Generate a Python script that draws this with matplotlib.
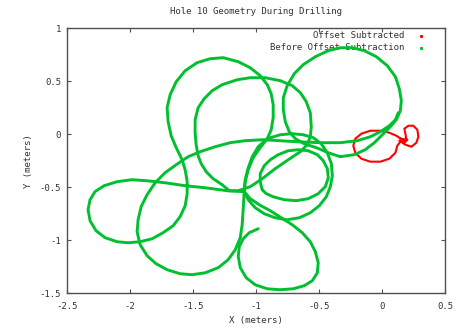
import matplotlib
matplotlib.use("Agg")
import matplotlib.pyplot as plt

plt.rcParams['font.family'] = ['DejaVu Sans Mono']

title = "Hole 10 Geometry During Drilling"
xticks = [-2.5, -2, -1.5, -1, -0.5, 0, 0.5]
yticks = [-1.5, -1, -0.5, 0, 0.5, 1]
xtick_labels = ["-2.5", "-2", "-1.5", "-1", "-0.5", "0", "0.5"]
ytick_labels = ["-1.5", "-1", "-0.5", "0", "0.5", "1"]

# offset-subtracted trace (red)
red_x = [0.161, 0.113, 0.058, -0.013, -0.093, -0.164, -0.212, -0.228, -0.212, -0.164, -0.093, -0.013,
         0.058, 0.106, 0.121, 0.145, 0.193, 0.185, 0.177, 0.209, 0.248, 0.280, 0.288, 0.272, 0.233,
         0.185, 0.137, 0.177, 0.201, 0.145]
red_y = [-0.052, -0.014, 0.014, 0.033, 0.033, 0.005, -0.042, -0.108, -0.175, -0.231, -0.259, -0.259,
         -0.231, -0.175, -0.108, -0.071, -0.052, 0.005, 0.052, 0.080, 0.080, 0.042, -0.024, -0.080,
         -0.118, -0.099, -0.061, -0.080, -0.052, -0.042]

# raw trace (green), split into the passes of the hole
loop_top_x = [-1.220, -1.268, -1.339, -1.394, -1.434, -1.458, -1.474, -1.482, -1.482, -1.458, -1.410,
              -1.347, -1.268, -1.148, -1.045, -0.926, -0.807, -0.712, -0.648, -0.601, -0.569, -0.561,
              -0.569, -0.593, -0.648, -0.744, -0.847, -0.950, -1.045, -1.140, -1.220]
loop_top_y = [-0.524, -0.476, -0.420, -0.354, -0.278, -0.203, -0.099, 0.014, 0.137, 0.250, 0.335,
              0.410, 0.467, 0.514, 0.533, 0.533, 0.505, 0.458, 0.392, 0.307, 0.203, 0.071,
              -0.024, -0.099, -0.165, -0.241, -0.325, -0.420, -0.495, -0.533, -0.533]

loop_left_x = [-1.093, -1.085, -1.061, -1.022, -0.966, -0.910, -0.879, -0.863, -0.863, -0.879, -0.910,
               -0.966, -1.045, -1.140, -1.259, -1.363, -1.466, -1.561, -1.632, -1.680, -1.704, -1.696,
               -1.672, -1.632, -1.585, -1.561, -1.545, -1.545, -1.561, -1.601, -1.656, -1.736, -1.823,
               -1.918, -2.013, -2.101, -2.196, -2.268, -2.315, -2.331, -2.315, -2.276, -2.204, -2.101,
               -1.982, -1.863, -1.720, -1.561, -1.402, -1.228, -1.093]
loop_left_y = [-0.542, -0.448, -0.335, -0.222, -0.127, -0.042, 0.042, 0.156, 0.278, 0.382, 0.467,
               0.552, 0.627, 0.684, 0.722, 0.712, 0.675, 0.599, 0.495, 0.373, 0.250, 0.118,
               -0.014, -0.127, -0.241, -0.335, -0.448, -0.561, -0.675, -0.778, -0.863, -0.929, -0.986,
               -1.014, -1.024, -1.014, -0.976, -0.910, -0.816, -0.712, -0.618, -0.542, -0.486, -0.448,
               -0.429, -0.439, -0.458, -0.486, -0.505, -0.533, -0.542]

sweep_x = [0.129, 0.106, 0.058, -0.013, -0.093, -0.196, -0.331, -0.490, -0.672, -0.942, -1.085,
           -1.204, -1.323, -1.442, -1.537, -1.632, -1.720, -1.799, -1.863, -1.910, -1.934, -1.942,
           -1.918, -1.863, -1.791, -1.704, -1.601, -1.505, -1.402, -1.299, -1.220, -1.164, -1.124,
           -1.109, -1.101, -1.093]
sweep_y = [0.203, 0.137, 0.080, 0.024, -0.024, -0.061, -0.080, -0.080, -0.071, -0.052, -0.061,
           -0.080, -0.118, -0.165, -0.212, -0.288, -0.363, -0.458, -0.571, -0.684, -0.807, -0.920,
           -1.042, -1.146, -1.222, -1.278, -1.316, -1.325, -1.307, -1.259, -1.184, -1.090, -0.976,
           -0.854, -0.712, -0.542]

loop_right_x = [-0.331, -0.426, -0.521, -0.617, -0.688, -0.736, -0.767, -0.783, -0.783, -0.752, -0.696,
                -0.625, -0.529, -0.426, -0.331, -0.236, -0.140, -0.045, 0.042, 0.106, 0.137, 0.153,
                0.145, 0.113, 0.066, 0.002, -0.061, -0.133, -0.220, -0.331]
loop_right_y = [-0.212, -0.175, -0.127, -0.090, -0.042, 0.024, 0.118, 0.231, 0.344, 0.458, 0.571,
                0.656, 0.731, 0.788, 0.816, 0.816, 0.788, 0.731, 0.646, 0.542, 0.429, 0.316,
                0.222, 0.137, 0.071, -0.005, -0.080, -0.146, -0.193, -0.212]

loop_mid_x = [-1.093, -1.085, -1.061, -1.029, -0.982, -0.910, -0.807, -0.712, -0.625, -0.545, -0.482,
              -0.434, -0.402, -0.394, -0.410, -0.442, -0.498, -0.569, -0.656, -0.752, -0.847, -0.934,
              -1.006, -1.061, -1.093]
loop_mid_y = [-0.542, -0.429, -0.316, -0.212, -0.118, -0.042, -0.005, 0.005, -0.005, -0.033, -0.090,
              -0.175, -0.278, -0.392, -0.495, -0.590, -0.675, -0.741, -0.788, -0.807, -0.788, -0.750,
              -0.693, -0.618, -0.542]

loop_inner_x = [-0.950, -0.966, -0.966, -0.934, -0.886, -0.823, -0.744, -0.664, -0.585, -0.513, -0.466,
                -0.434, -0.426, -0.450, -0.506, -0.585, -0.680, -0.775, -0.863, -0.918, -0.950]
loop_inner_y = [-0.524, -0.448, -0.373, -0.297, -0.241, -0.193, -0.156, -0.146, -0.156, -0.193, -0.250,
                -0.325, -0.410, -0.495, -0.561, -0.608, -0.627, -0.618, -0.590, -0.561, -0.524]

tail_x = [-1.093, -1.045, -0.974, -0.886, -0.799, -0.712, -0.633, -0.569, -0.529, -0.506, -0.513,
          -0.553, -0.617, -0.704, -0.807, -0.910, -1.006, -1.077, -1.124, -1.140, -1.132, -1.101,
          -1.053, -0.982]
tail_y = [-0.542, -0.608, -0.665, -0.722, -0.788, -0.854, -0.929, -1.014, -1.108, -1.212, -1.307,
          -1.382, -1.429, -1.458, -1.467, -1.458, -1.420, -1.354, -1.259, -1.156, -1.061, -0.986,
          -0.929, -0.892]

green_parts = [(loop_top_x, loop_top_y), (loop_left_x, loop_left_y), (sweep_x, sweep_y),
               (loop_right_x, loop_right_y), (loop_mid_x, loop_mid_y),
               (loop_inner_x, loop_inner_y), (tail_x, tail_y)]

RED = '#ff0000'
GREEN = '#00c030'
GREY = '#505050'
TEXT = '#333333'

fig = plt.figure(figsize=(4.57, 3.28), dpi=100)
ax = fig.add_axes([0.146, 0.106, 0.828, 0.808])

ax.plot(red_x, red_y, color=RED, lw=1.5, solid_joinstyle='round', solid_capstyle='round')
for gx, gy in green_parts:
    ax.plot(gx, gy, color=GREEN, lw=2.1, solid_joinstyle='round', solid_capstyle='round')

ax.set_xlim(-2.5, 0.5)
ax.set_ylim(-1.5, 1)
ax.set_xticks(xticks)
ax.set_xticklabels(xtick_labels)
ax.set_yticks(yticks)
ax.set_yticklabels(ytick_labels)
ax.tick_params(direction='in', length=3, width=0.8, color=GREY, labelsize=6.5,
               labelcolor=TEXT, top=True, right=True)
ax.tick_params(axis='x', pad=6)
ax.tick_params(axis='y', pad=4)
for s in ax.spines.values():
    s.set_color(GREY)
    s.set_linewidth(1.0)

ax.set_title(title, fontsize=6.5, color=TEXT, pad=10)
ax.set_xlabel("X (meters)", fontsize=6.5, color=TEXT, labelpad=4)
ax.set_ylabel("Y (meters)", fontsize=6.5, color=TEXT, labelpad=5)

# key, gnuplot style: right-justified text with a dot after it, drawn under the traces
ax.text(0.892, 0.971, "Offset Subtracted", transform=ax.transAxes, ha='right', va='center',
        fontsize=6.5, color=TEXT, zorder=1)
ax.text(0.892, 0.926, "Before Offset Subtraction", transform=ax.transAxes, ha='right', va='center',
        fontsize=6.5, color=TEXT, zorder=1)
ax.plot([0.937], [0.971], 's', ms=1.2, color=RED, transform=ax.transAxes, clip_on=False)
ax.plot([0.937], [0.926], 's', ms=1.2, color=GREEN, transform=ax.transAxes, clip_on=False)

fig.savefig("out.png", dpi=100)
